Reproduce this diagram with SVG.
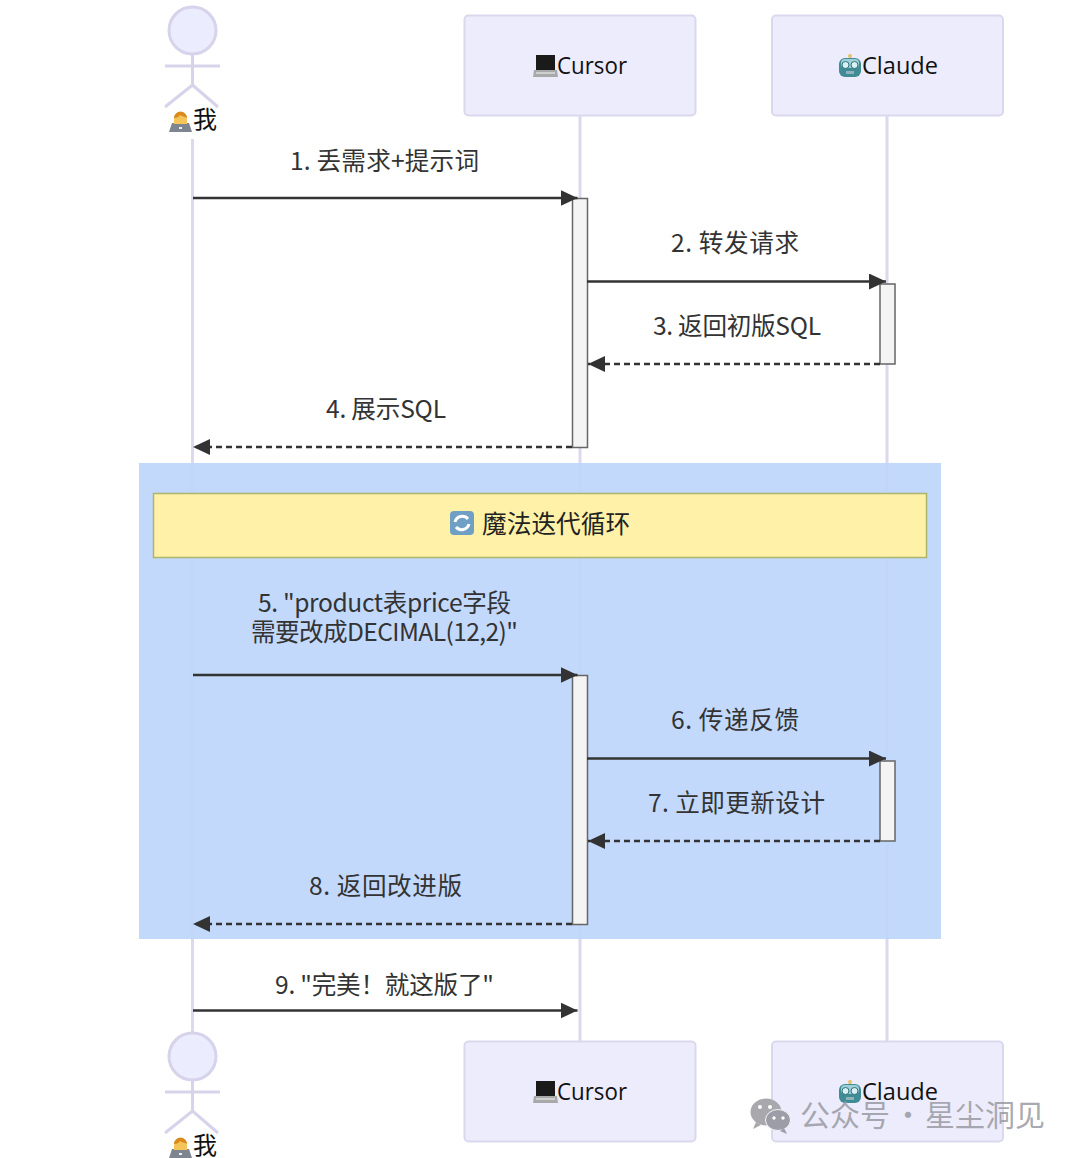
<svg xmlns="http://www.w3.org/2000/svg" width="1080" height="1158" viewBox="0 0 1080 1158">
<style>
text{font-family:"Noto Sans CJK SC","Noto Sans",sans-serif}
.life{stroke:#dcd9ee;stroke-width:3;fill:none}
.actor{fill:#ececff;stroke:#d6d3ea;stroke-width:3}
.limb{stroke:#d6d3ea;stroke-width:3;fill:none}
.box{fill:#ececfc;stroke:#dbd8ee;stroke-width:2}
.name{font-family:"Open Sans","Noto Sans",sans-serif;font-size:24.500px;fill:#111;text-anchor:start}
.me{font-size:24px;fill:#111}
.msg{font-size:24.600px;fill:#333;text-anchor:middle}
.act{fill:#f4f4f4;stroke:#666;stroke-width:1.5}
.solid{stroke:#333;stroke-width:2.4;fill:none;marker-end:url(#ah)}
.dash{stroke:#333;stroke-width:2.4;fill:none;stroke-dasharray:6 4;marker-end:url(#ah)}
.wm{font-size:30px;fill:#9a9aa2;fill-opacity:.85}
</style>
<defs>
<marker id="ah" markerWidth="18" markerHeight="16" refX="17" refY="8" orient="auto" markerUnits="userSpaceOnUse"><path d="M0 0L17 8L0 16Z" fill="#333"/></marker>
<g id="laptop"><path d="M3 1H22V16H3Z" fill="#1a1a1a"/><path d="M1 16H24L25 23H0Z" fill="#a9a9a9"/><path d="M3 18H22V20H3Z" fill="#d0d0d0"/></g>
<g id="robot"><rect x="10" y="0" width="2" height="5" fill="#e8c36a"/><circle cx="11" cy="2" r="2" fill="#e8c36a"/><rect x="0" y="4" width="22" height="19" rx="6" fill="#3f8b96"/><rect x="2" y="5" width="18" height="9" rx="4" fill="#9fd0d8"/><circle cx="6.500" cy="11" r="3.500" fill="#d9f1f5" stroke="#2f6f78"/><circle cx="15.500" cy="11" r="3.500" fill="#d9f1f5" stroke="#2f6f78"/><rect x="7" y="17" width="8" height="3" fill="#8fb3b8"/></g>
<g id="coder"><path d="M3 13H20L23 22H0Z" fill="#7f8590"/><path d="M5 9a6.500 7 0 0 1 13 0v5H5Z" fill="#f6c55a"/><path d="M5 8a6.500 6.500 0 0 1 13 0c-3-2-5-1-7-3c-1 2-3 3-6 3Z" fill="#d98a1e"/><rect x="10" y="17" width="3" height="2" fill="#eee"/></g>
<g id="cycle"><rect width="24" height="24" rx="4" fill="#6f9fc4"/><path d="M5 11a7.500 7.500 0 0 1 13-3M19 13a7.500 7.500 0 0 1-13 3" stroke="#fff" stroke-width="3" fill="none"/></g>
</defs>
<rect width="1080" height="1158" fill="#fff"/>
<g id="lifelines">
<path class="life" d="M192.500 139V1034"/>
<path class="life" d="M580 115V1041"/>
<path class="life" d="M887 115V1041"/>
</g>
<rect id="loop-background" x="139" y="463" width="802" height="476" fill="#bdd5fc" fill-opacity=".9"/>
<g id="note">
<rect x="153.500" y="493.500" width="773" height="64" fill="#fff2a8" stroke="#adb56c" stroke-width="1.500"/>
<use href="#cycle" x="450" y="511"/>
<text x="482" y="533" font-size="24.700" fill="#222">魔法迭代循环</text>
</g>
<g id="actor-me-top">
<circle class="actor" cx="192.500" cy="30.500" r="23.500"/>
<path class="limb" d="M192.500 54V85M165 66H220M192.500 85L165 107M192.500 85L218 107"/>
<use href="#coder" x="169" y="110"/>
<text class="me" x="193" y="128">我</text>
</g>
<g id="actor-cursor-top">
<rect class="box" x="464.500" y="15.500" width="231" height="100" rx="4"/>
<use href="#laptop" x="533" y="54"/>
<text class="name" x="557" y="74" textLength="70" lengthAdjust="spacingAndGlyphs">Cursor</text>
</g>
<g id="actor-claude-top">
<rect class="box" x="772" y="15.500" width="231" height="100" rx="4"/>
<use href="#robot" x="839" y="54"/>
<text class="name" x="862" y="74" textLength="76" lengthAdjust="spacingAndGlyphs">Claude</text>
</g>
<g id="activations">
<rect class="act" x="572.500" y="198.500" width="15" height="249"/>
<rect class="act" x="880" y="284" width="15" height="80"/>
<rect class="act" x="572.500" y="675.500" width="15" height="249"/>
<rect class="act" x="880" y="761" width="15" height="80"/>
</g>
<g id="connectors">
<path class="solid" d="M193 198H577.500"/>
<path class="solid" d="M587 281.500H886"/>
<path class="dash" d="M880 364H588"/>
<path class="dash" d="M572 447H193"/>
<path class="solid" d="M193 675H577.500"/>
<path class="solid" d="M587 758.500H886"/>
<path class="dash" d="M880 841H588"/>
<path class="dash" d="M572 924H193"/>
<path class="solid" d="M193 1010.500H577.500"/>
</g>
<g id="labels">
<text class="msg" x="384.500" y="170" textLength="189">1. 丢需求+提示词</text>
<text class="msg" x="735" y="252" textLength="128">2. 转发请求</text>
<text class="msg" x="737" y="335" textLength="168">3. 返回初版SQL</text>
<text class="msg" x="386" y="418" textLength="120">4. 展示SQL</text>
<text class="msg" x="384.500" y="612" textLength="253">5. "product表price字段</text>
<text class="msg" x="384.500" y="641" textLength="267">需要改成DECIMAL(12,2)"</text>
<text class="msg" x="735" y="729" textLength="128">6. 传递反馈</text>
<text class="msg" x="736.500" y="812" textLength="177">7. 立即更新设计</text>
<text class="msg" x="385.500" y="895" textLength="153">8. 返回改进版</text>
<text class="msg" x="384.500" y="994" textLength="219">9. "完美！就这版了"</text>
</g>
<g id="actor-me-bottom">
<circle class="actor" cx="192.500" cy="1056.500" r="23.500"/>
<path class="limb" d="M192.500 1080V1111M165 1092H220M192.500 1111L165 1133M192.500 1111L218 1133"/>
<use href="#coder" x="169" y="1136"/>
<text class="me" x="193" y="1154">我</text>
</g>
<g id="actor-cursor-bottom">
<rect class="box" x="464.500" y="1041.500" width="231" height="100" rx="4"/>
<use href="#laptop" x="533" y="1080"/>
<text class="name" x="557" y="1100" textLength="70" lengthAdjust="spacingAndGlyphs">Cursor</text>
</g>
<g id="actor-claude-bottom">
<rect class="box" x="772" y="1041.500" width="231" height="100" rx="4"/>
<use href="#robot" x="839" y="1080"/>
<text class="name" x="862" y="1100" textLength="76" lengthAdjust="spacingAndGlyphs">Claude</text>
</g>
<g id="watermark">
<ellipse cx="766" cy="1112" rx="15.500" ry="13.500" fill="#a9a9ad"/>
<path d="M756 1122l-3 7 8-4Z" fill="#a9a9ad"/>
<ellipse cx="778" cy="1120" rx="12.500" ry="10.500" fill="#9d9da8" stroke="#f4f4fa" stroke-width="1"/>
<path d="M784 1128l3 6-7-3Z" fill="#9d9da8"/>
<circle cx="760" cy="1107" r="2" fill="#fff"/><circle cx="770" cy="1107" r="2" fill="#fff"/>
<circle cx="774" cy="1118" r="1.700" fill="#fff"/><circle cx="783" cy="1118" r="1.700" fill="#fff"/>
<text class="wm" y="1126"><tspan x="800">公众号</tspan><tspan x="893">·</tspan><tspan x="925">星尘洞见</tspan></text>
</g>
</svg>
